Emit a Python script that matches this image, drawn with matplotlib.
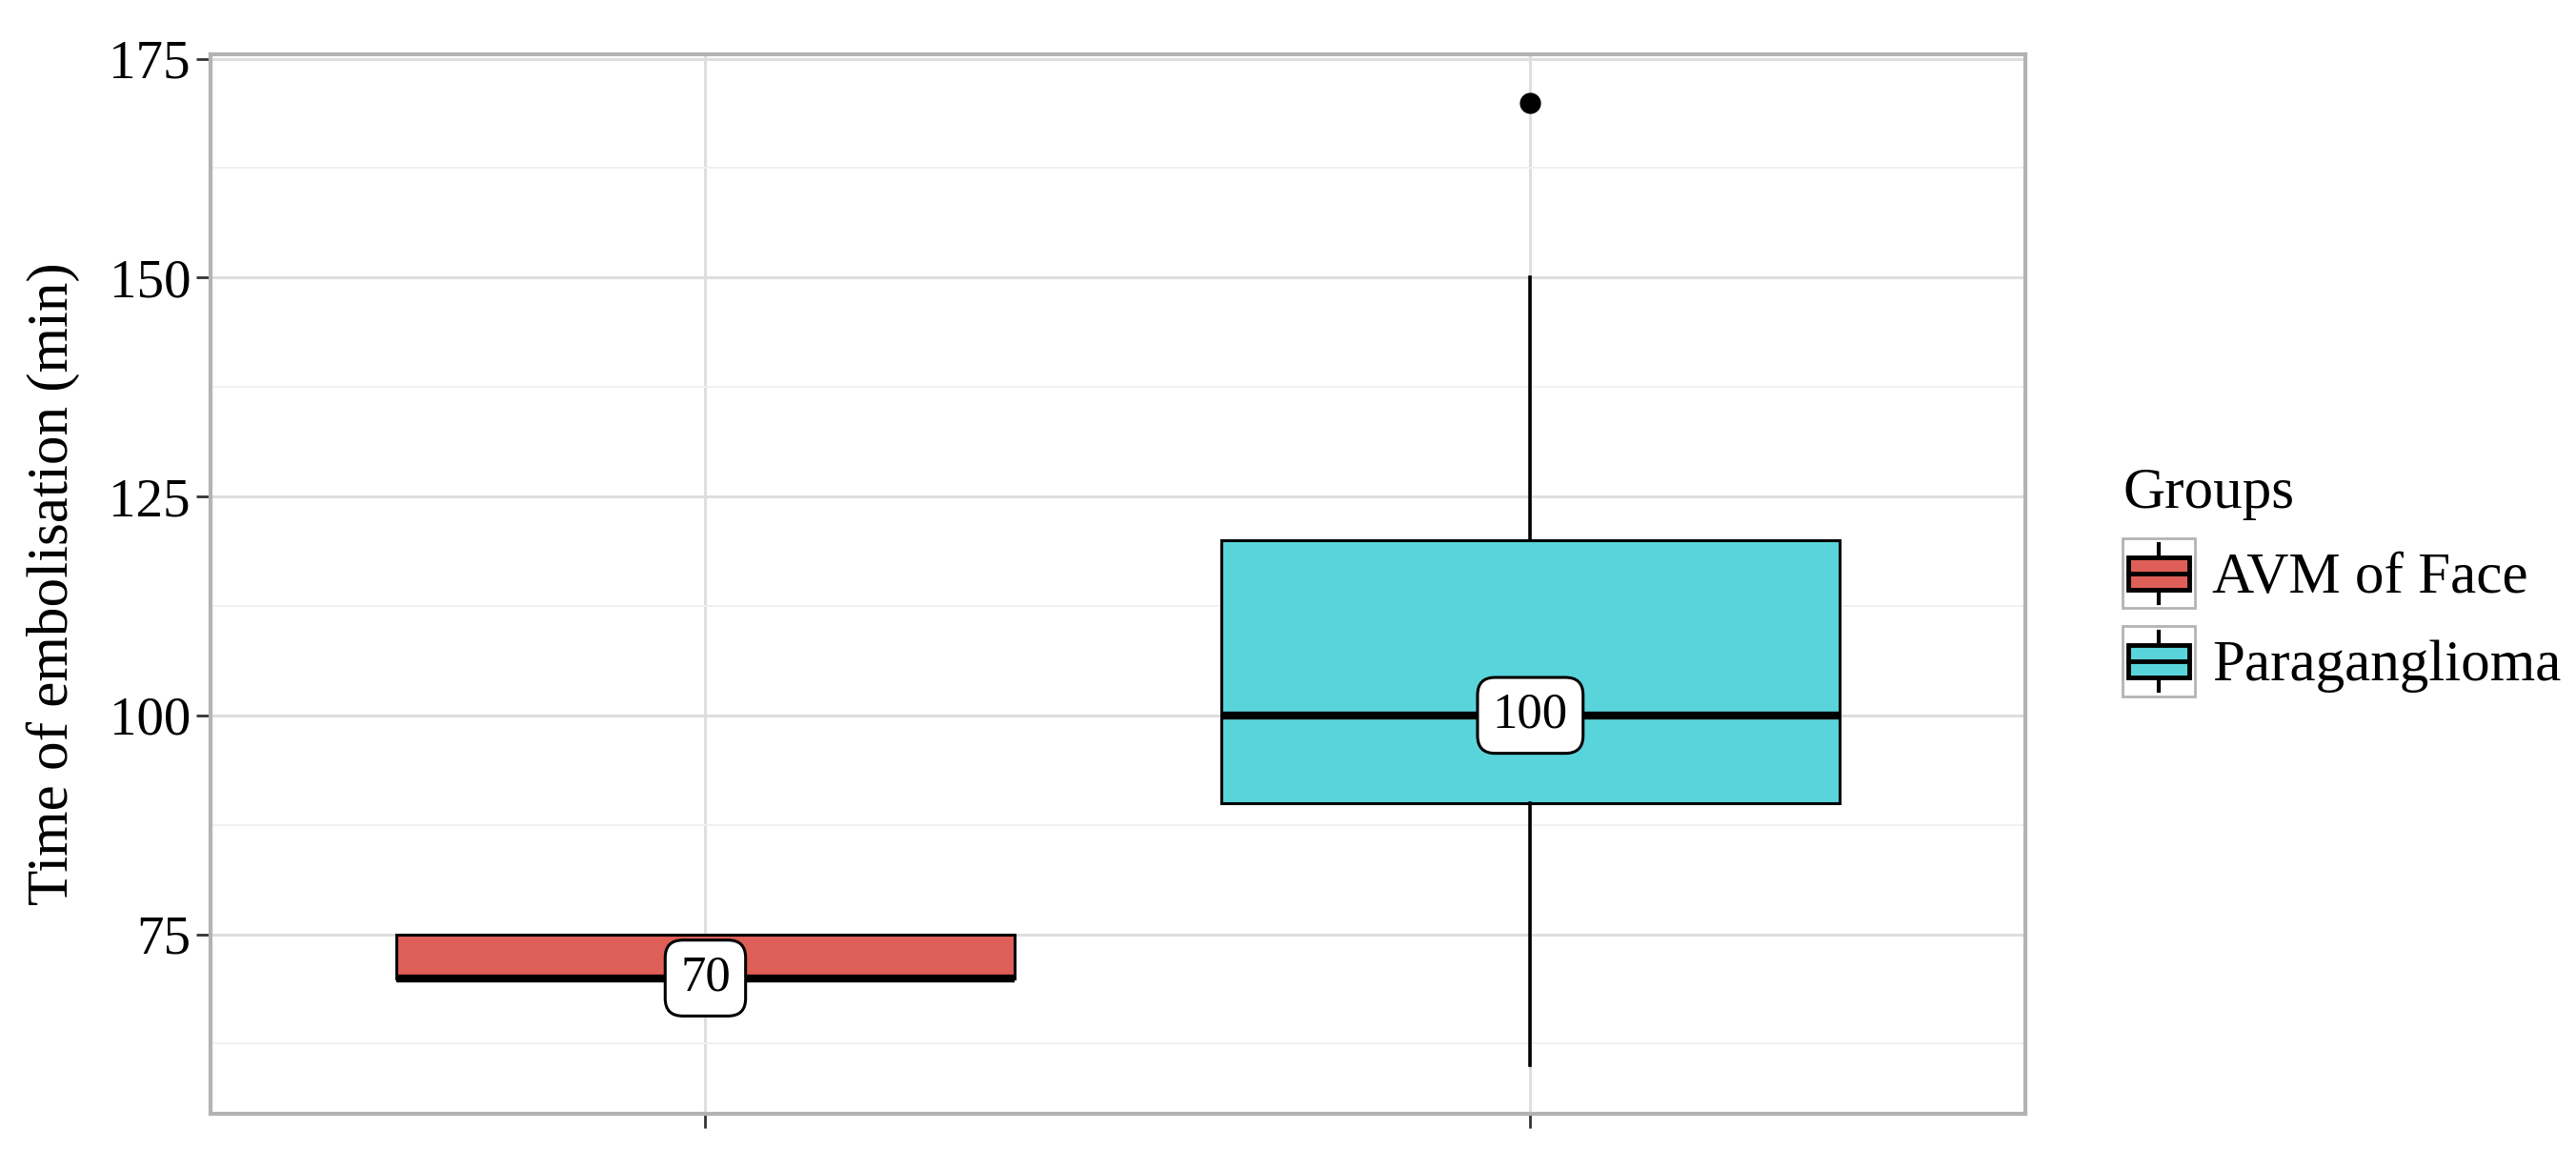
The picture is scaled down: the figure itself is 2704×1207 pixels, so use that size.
import numpy as np
import matplotlib.pyplot as plt
from matplotlib.patches import Rectangle
from matplotlib.lines import Line2D
from matplotlib.legend_handler import HandlerBase

plt.rcParams['font.family'] = ['Liberation Serif', 'DejaVu Serif']

# box statistics
groups = ['AVM of Face', 'Paraganglioma']
q1 = [70, 90]
medians = [70, 100]
q3 = [75, 120]
whisk_lo = [70, 60]
whisk_hi = [75, 150]
outliers = [[], [170]]
colors = ['#DE5F58', '#5AD4DB']

y_ticks = [75, 100, 125, 150, 175]
y_minor = [62.5, 87.5, 112.5, 137.5, 162.5]

fig = plt.figure(figsize=(27.04, 12.07), dpi=100)
ax = fig.add_axes([0.0817, 0.0315, 0.7045, 0.9213])

stats = []
for i in range(len(groups)):
    stats.append({'q1': q1[i], 'med': medians[i], 'q3': q3[i],
                  'whislo': whisk_lo[i], 'whishi': whisk_hi[i],
                  'fliers': outliers[i], 'label': groups[i]})

bp = ax.bxp(stats, positions=[1, 2], widths=0.75, patch_artist=True,
            showcaps=False, manage_ticks=False,
            boxprops=dict(edgecolor='black', linewidth=2.2),
            medianprops=dict(color='black', linewidth=6),
            whiskerprops=dict(color='black', linewidth=2.6),
            flierprops=dict(marker='o', markerfacecolor='black',
                            markeredgecolor='black', markersize=15))
for patch, c in zip(bp['boxes'], colors):
    patch.set_facecolor(c)
    patch.set_zorder(3)
for ln in bp['medians'] + bp['whiskers']:
    ln.set_zorder(3)

# median labels
for i, m in enumerate(medians):
    ax.text(i + 1, m, str(m), ha='center', va='center', fontsize=38, zorder=5,
            bbox=dict(boxstyle='round,pad=0.3,rounding_size=0.35',
                      facecolor='white', edgecolor='black', linewidth=2.2))

ax.set_xlim(0.4, 2.6)
ax.set_ylim(54.5, 175.5)
ax.set_xticks([1, 2])
ax.set_xticklabels(['', ''])
ax.set_yticks(y_ticks)
ax.set_yticks(y_minor, minor=True)
ax.tick_params(axis='y', which='minor', length=0)
ax.tick_params(axis='both', which='major', length=11, width=2,
               color='#333333', labelsize=41, pad=4)
ax.grid(True, which='major', color='#DEDEDE', linewidth=2.2, zorder=0)
ax.grid(True, which='minor', axis='y', color='#F0F0F0', linewidth=1.4, zorder=0)
ax.set_axisbelow(True)
for sp in ax.spines.values():
    sp.set_color('#B3B3B3')
    sp.set_linewidth(3)

ax.set_ylabel('Time of embolisation (min)', fontsize=44, labelpad=22)


class BoxKey(HandlerBase):
    def create_artists(self, legend, orig_handle, xdescent, ydescent,
                       width, height, fontsize, trans):
        x0, y0 = -xdescent, -ydescent
        frame = Rectangle((x0, y0), width, height, facecolor='white',
                          edgecolor='#B3B3B3', linewidth=2, transform=trans)
        cx = x0 + width / 2
        cy = y0 + height / 2
        whisk = Line2D([cx, cx], [y0 + 0.08 * height, y0 + 0.92 * height],
                       color='black', linewidth=3, transform=trans)
        box = Rectangle((x0 + 0.08 * width, y0 + 0.27 * height),
                        0.84 * width, 0.46 * height,
                        facecolor=orig_handle.get_facecolor(),
                        edgecolor='black', linewidth=3.5, transform=trans)
        med = Line2D([x0 + 0.08 * width, x0 + 0.92 * width], [cy, cy],
                     color='black', linewidth=3.5, transform=trans)
        return [frame, whisk, box, med]


handles = [Rectangle((0, 0), 1, 1, facecolor=c) for c in colors]
leg = fig.legend(handles, groups, title='Groups', loc='center left',
                 bbox_to_anchor=(0.824, 0.494), frameon=False,
                 fontsize=44, title_fontsize=44, alignment='left',
                 handler_map={Rectangle: BoxKey()},
                 handlelength=1.24, handleheight=1.48,
                 handletextpad=0.3, labelspacing=0.3, borderpad=0,
                 borderaxespad=0)

fig.savefig('out.png', dpi=100)
